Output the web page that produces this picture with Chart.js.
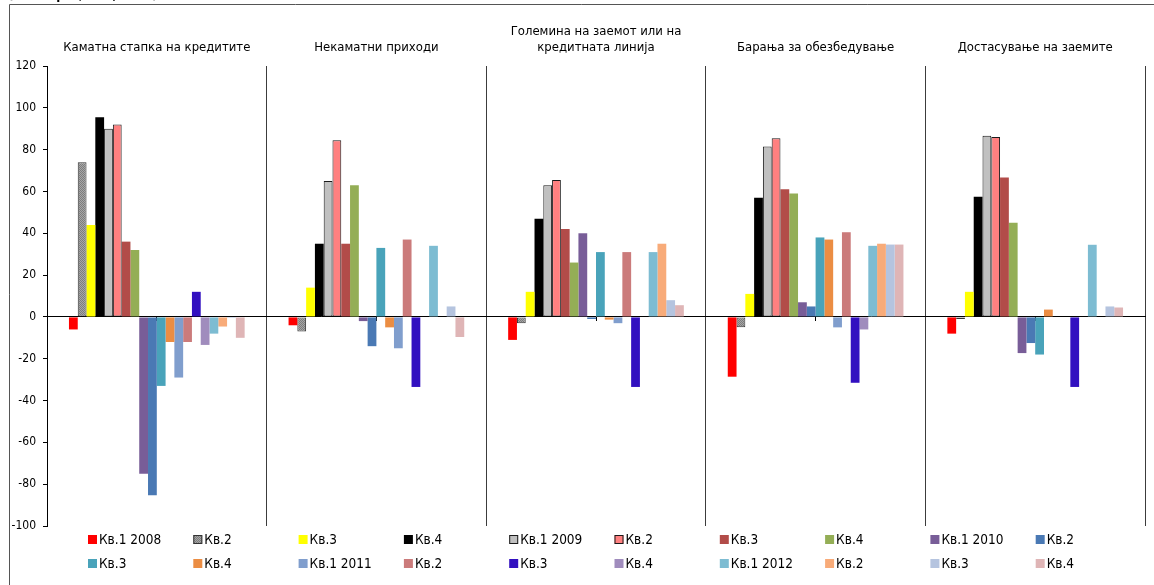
<!DOCTYPE html>
<html>
<head>
<meta charset="utf-8">
<script src="https://cdn.jsdelivr.net/npm/chart.js@4/dist/chart.umd.min.js"></script>
<style>
  html, body { margin: 0; padding: 0; background: #fff; }
  #wrap { position: relative; width: 1154px; height: 585px; }
</style>
</head>
<body>
<div id="wrap"><canvas id="c" width="1154" height="585"></canvas></div>
<script>
// Panel titles (one per credit condition)
const categories = [
  'Каматна стапка на кредитите',
  'Некаматни приходи',
  ['Големина на заемот или на', 'кредитната линија'],
  'Барања за обезбедување',
  'Достасување на заемите'
];

// Quarter labels shown in the legend
const seriesNames = [
  'Кв.1 2008', 'Кв.2', 'Кв.3', 'Кв.4',
  'Кв.1 2009', 'Кв.2', 'Кв.3', 'Кв.4',
  'Кв.1 2010', 'Кв.2', 'Кв.3', 'Кв.4',
  'Кв.1 2011', 'Кв.2', 'Кв.3', 'Кв.4',
  'Кв.1 2012', 'Кв.2', 'Кв.3', 'Кв.4'
];

// Net percentages per quarter, one value per panel
const kv1_2008 = [-6, -4, -11, -28.6, -8];
const kv2_2008 = [74, -7, -3, -5, -1];
const kv3_2008 = [44, 14, 12, 11, 12];
const kv4_2008 = [95.5, 35, 47, 57, 57.5];
const kv1_2009 = [90, 65, 63, 81.5, 86.7];
const kv2_2009 = [92, 84.5, 65.5, 85.5, 86];
const kv3_2009 = [36, 35, 42, 61, 66.7];
const kv4_2009 = [32, 63, 26, 59, 45];
const kv1_2010 = [-75, -2, 40, 7, -17.3];
const kv2_2010 = [-85.3, -14, -1, 5, -12.5];
const kv3_2010 = [-33, 33, 31, 38, -18];
const kv4_2010 = [-12, -5, -1.3, 37, 3.5];
const kv1_2011 = [-29, -15, -3, -5, 0];
const kv2_2011 = [-12, 37, 31, 40.5, 0];
const kv3_2011 = [12, -33.5, -33.5, -31.5, -33.5];
const kv4_2011 = [-13.4, 0, 0, -6, 0];
const kv1_2012 = [-8, 34, 31, 34, 34.5];
const kv2_2012 = [-4.6, 0, 35, 35, 0];
const kv3_2012 = [-0.5, 5, 8, 34.6, 5];
const kv4_2012 = [-10, -9.6, 5.6, 34.6, 4.5];

// Y axis tick range
const yMin = -100, yMax = 120, yStep = 20;

const seriesValues = [
  kv1_2008, kv2_2008, kv3_2008, kv4_2008,
  kv1_2009, kv2_2009, kv3_2009, kv4_2009,
  kv1_2010, kv2_2010, kv3_2010, kv4_2010,
  kv1_2011, kv2_2011, kv3_2011, kv4_2011,
  kv1_2012, kv2_2012, kv3_2012, kv4_2012
];

// Fine crosshatch fill for the second 2008 quarter
function makeHatch() {
  const c = document.createElement('canvas');
  c.width = 2; c.height = 2;
  const g = c.getContext('2d');
  g.fillStyle = '#a6a6a6';
  g.fillRect(0, 0, 2, 2);
  g.fillStyle = '#7c7c7c';
  g.fillRect(0, 0, 1, 1);
  g.fillRect(1, 1, 1, 1);
  return g.createPattern(c, 'repeat');
}
const hatch = makeHatch();

const fills = [
  '#ff0000', hatch, '#ffff00', '#000000',
  '#c0c0c0', '#ff8080', '#b24c49', '#94ae56',
  '#785d98', '#4a79b4', '#49a3ba', '#eb8d43',
  '#809ecd', '#cb7b7b', '#3210c0', '#a08cbd',
  '#7dbcd2', '#f8ab79', '#b5c4df', '#dfb5b6'
];
const borders = fills.map(() => null);
borders[1] = '#333333';
borders[4] = '#1a1a1a';
borders[5] = '#1a1a1a';

const FONT = '"DejaVu Sans Condensed", "DejaVu Sans", sans-serif';

const datasets = seriesNames.map((name, i) => ({
  label: name,
  data: seriesValues[i],
  backgroundColor: fills[i],
  borderColor: borders[i] || fills[i],
  borderWidth: borders[i] ? 1 : 0,
  borderSkipped: false,
  xAxisID: 'x',
  yAxisID: 'y',
  barPercentage: 1.0,
  categoryPercentage: 0.8
}));

// Outer frame, the clipped heading above it and the two-row legend grid
const decorations = {
  id: 'decorations',
  afterDraw(chart) {
    const ctx = chart.ctx;
    ctx.save();
    ctx.strokeStyle = '#555555';
    ctx.lineWidth = 1;
    ctx.beginPath();
    ctx.moveTo(9.5, 585);
    ctx.lineTo(9.5, 4.5);
    ctx.lineTo(1154, 4.5);
    ctx.stroke();

    ctx.fillStyle = '#000';
    ctx.font = 'bold 13px ' + FONT;
    ctx.textBaseline = 'alphabetic';
    ctx.textAlign = 'left';
    ctx.fillText('(нето проценти, во %)', 8, -1);

    ctx.font = '13.5px ' + FONT;
    ctx.textBaseline = 'middle';
    const x0 = 88, dx = 105.3, rows = [539, 563];
    chart.data.datasets.forEach((ds, i) => {
      const col = i % 10, row = Math.floor(i / 10);
      const x = x0 + col * dx, y = rows[row];
      ctx.fillStyle = ds.backgroundColor;
      ctx.fillRect(x, y - 4, 9, 9);
      if (ds.borderWidth) {
        ctx.strokeStyle = ds.borderColor;
        ctx.lineWidth = 1;
        ctx.strokeRect(x + 0.5, y - 3.5, 8, 8);
      }
      ctx.fillStyle = '#000';
      ctx.fillText(ds.label, x + 11, y + 1);
    });
    ctx.restore();
  }
};

new Chart(document.getElementById('c'), {
  type: 'bar',
  data: { labels: categories, datasets },
  plugins: [decorations],
  options: {
    responsive: false,
    animation: false,
    layout: { padding: { left: 0, right: 9, top: 0, bottom: 59 } },
    plugins: {
      legend: { display: false },
      tooltip: { enabled: false }
    },
    scales: {
      x: {
        type: 'category',
        position: 'top',
        offset: true,
        afterFit(s) { s.height = 66; },
        grid: {
          offset: true,
          drawTicks: false,
          color: '#3c3c3c',
          lineWidth: 1
        },
        border: { display: false },
        ticks: {
          color: '#000',
          padding: 10,
          maxRotation: 0,
          autoSkip: false,
          font: { family: FONT, size: 13, lineHeight: 16 / 13 }
        }
      },
      x2: {
        type: 'category',
        labels: categories,
        position: { y: 0 },
        offset: true,
        grid: {
          offset: false,
          drawOnChartArea: false,
          drawTicks: true,
          tickLength: 4,
          color: '#000'
        },
        border: { display: true, color: '#000', width: 1 },
        ticks: { display: false }
      },
      y: {
        min: yMin,
        max: yMax,
        afterFit(s) { s.width = 47; },
        ticks: {
          stepSize: yStep,
          color: '#000',
          padding: 7,
          font: { family: FONT, size: 12 }
        },
        grid: {
          drawOnChartArea: false,
          drawTicks: true,
          tickLength: 4,
          color: '#000'
        },
        border: { display: true, color: '#000', width: 1 }
      }
    }
  }
});
</script>
</body>
</html>
